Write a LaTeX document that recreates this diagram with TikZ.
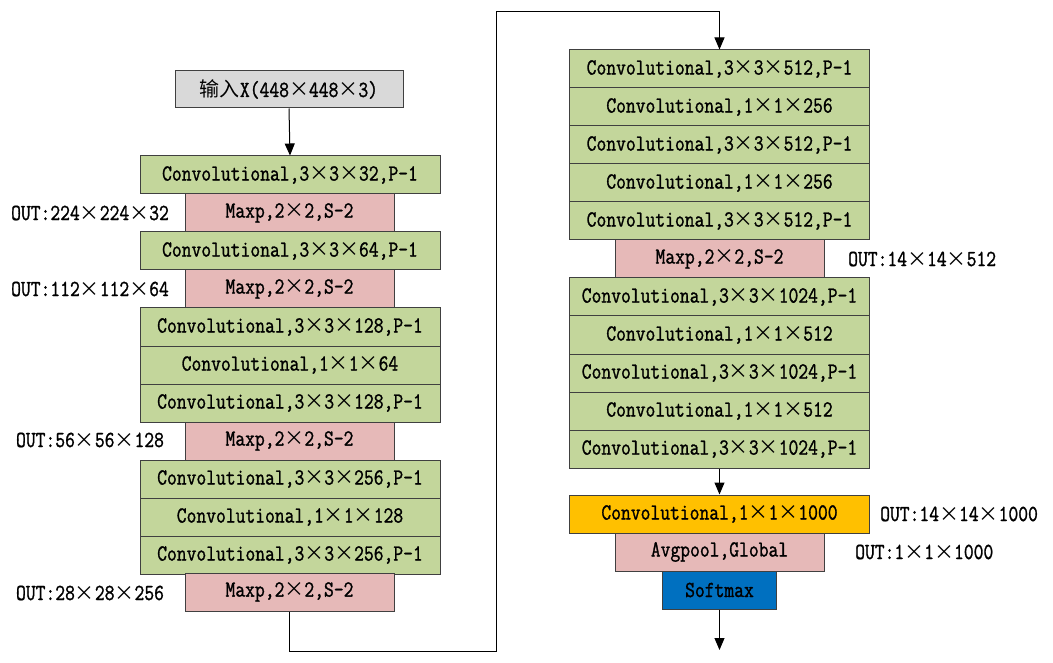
\documentclass[tikz,border=0pt]{standalone}
\usepackage{fontspec}
\usepackage{graphicx}
\newfontfamily\tfont[FakeStretch=0.828,FakeBold=1.2]{Latin Modern Mono}
\newfontfamily\cjk{Noto Sans CJK SC}
\usetikzlibrary{arrows.meta}
\newcommand\mul{\makebox[20pt][c]{\fontsize{20pt}{22pt}\cjk ×}}
\newcommand\txtfont{\fontsize{23pt}{24pt}\tfont}
\definecolor{cgreen}{HTML}{C3D69B}
\definecolor{cpink}{HTML}{E6B9B8}
\definecolor{cgray}{HTML}{D9D9D9}
\definecolor{cyellow}{HTML}{FFC000}
\definecolor{cblue}{HTML}{0070C0}
\definecolor{cborder}{HTML}{404040}
\tikzset{
  box/.style={draw=cborder, line width=1pt, inner sep=0pt, minimum height=38pt,
    font=\txtfont, text=black},
  convbox/.style={box, fill=cgreen, minimum width=300pt},
  poolbox/.style={box, fill=cpink, minimum width=209pt},
  lbl/.style={inner sep=0pt, font=\txtfont, text=black},
  link/.style={draw=black, line width=1pt},
  arr/.style={link, -{Triangle[width=10pt,length=12pt]}}
}
\begin{document}
\begin{tikzpicture}[x=1pt,y=-1pt]
\useasboundingbox (0,0) rectangle (1053,663);
% left column
\node[box, fill=cgray, minimum width=228pt, minimum height=37pt] (in) at (289,89.5) {{\fontsize{20pt}{22pt}\cjk 输入}X(448\mul 448\mul 3)};
\node[convbox] (l1) at (290,175) {Convolutional,3\mul 3\mul 32,P-1};
\node[poolbox] (p1) at (289.5,213) {Maxp,2\mul 2,S-2};
\node[convbox] (l2) at (290,251) {Convolutional,3\mul 3\mul 64,P-1};
\node[poolbox] (p2) at (289.5,289) {Maxp,2\mul 2,S-2};
\node[convbox] (l3) at (290,327) {Convolutional,3\mul 3\mul 128,P-1};
\node[convbox] (l4) at (290,365) {Convolutional,1\mul 1\mul 64};
\node[convbox] (l5) at (290,403) {Convolutional,3\mul 3\mul 128,P-1};
\node[poolbox] (p3) at (289.5,441) {Maxp,2\mul 2,S-2};
\node[convbox] (l6) at (290,479) {Convolutional,3\mul 3\mul 256,P-1};
\node[convbox] (l7) at (290,517) {Convolutional,1\mul 1\mul 128};
\node[convbox] (l8) at (290,555) {Convolutional,3\mul 3\mul 256,P-1};
\node[poolbox] (p4) at (289.5,592) {Maxp,2\mul 2,S-2};
% left labels
\node[lbl] (o1) at (90,213) {OUT:224\mul 224\mul 32};
\node[lbl] (o2) at (90,289) {OUT:112\mul 112\mul 64};
\node[lbl] (o3) at (90,440) {OUT:56\mul 56\mul 128};
\node[lbl] (o4) at (90,593) {OUT:28\mul 28\mul 256};
% right column
\node[convbox] (r1) at (719.5,69) {Convolutional,3\mul 3\mul 512,P-1};
\node[convbox] (r2) at (719.5,107) {Convolutional,1\mul 1\mul 256};
\node[convbox] (r3) at (719.5,145) {Convolutional,3\mul 3\mul 512,P-1};
\node[convbox] (r4) at (719.5,183) {Convolutional,1\mul 1\mul 256};
\node[convbox] (r5) at (719.5,221) {Convolutional,3\mul 3\mul 512,P-1};
\node[poolbox] (q1) at (719.5,259) {Maxp,2\mul 2,S-2};
\node[convbox] (r6) at (719.5,297) {Convolutional,3\mul 3\mul 1024,P-1};
\node[convbox] (r7) at (719.5,335) {Convolutional,1\mul 1\mul 512};
\node[convbox] (r8) at (719.5,373) {Convolutional,3\mul 3\mul 1024,P-1};
\node[convbox] (r9) at (719.5,411) {Convolutional,1\mul 1\mul 512};
\node[convbox] (r10) at (719.5,449) {Convolutional,3\mul 3\mul 1024,P-1};
\node[box, fill=cyellow, minimum width=300pt] (cy) at (719.5,514) {Convolutional,1\mul 1\mul 1000};
\node[poolbox] (ag) at (719.5,552) {Avgpool,Global};
\node[box, fill=cblue, minimum width=114pt] (sm) at (719.5,590) {Softmax};
% right labels
\node[lbl, anchor=west] (o5) at (848,259) {OUT:14\mul 14\mul 512};
\node[lbl, anchor=west] (o6) at (880,514) {OUT:14\mul 14\mul 1000};
\node[lbl, anchor=west] (o7) at (855,552) {OUT:1\mul 1\mul 1000};
% connectors
\coordinate (t1) at (496,651);
\coordinate (t2) at (719.5,12);
\coordinate (endp) at (719.5,650);
\draw[arr] (in.south) -- (l1.north);
\draw[arr] (p4.south) |- (t1) |- (t2) -- (r1.north);
\draw[arr] (r10.south) -- (cy.north);
\draw[arr] (sm.south) -- (endp);
\end{tikzpicture}
\end{document}
